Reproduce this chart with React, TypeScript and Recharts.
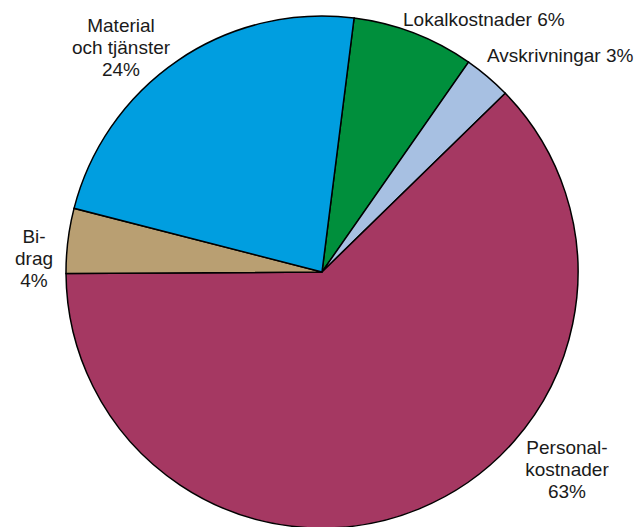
import React from 'react';
import { PieChart, Pie, Cell } from 'recharts';

// slice order runs clockwise from just right of 12 o'clock
const categories = ['Lokalkostnader', 'Avskrivningar', 'Personalkostnader', 'Bidrag', 'Material och tjänster'];
const shares = [7.7, 3.0, 62.2, 4.1, 23.0];
const shownPercent = [6, 3, 63, 4, 24];
const labelText = [
  ['Lokalkostnader 6%'],
  ['Avskrivningar 3%'],
  ['Personal-', 'kostnader', '63%'],
  ['Bi-', 'drag', '4%'],
  ['Material', 'och tjänster', '24%'],
];

const colors = ['#008F3C', '#A7C0E2', '#A53862', '#B99F72', '#009EE0'];

// label anchor offsets from the pie centre
const labelPlacement = [
  { dx: 81, dy: -246, anchor: 'start' },
  { dx: 165, dy: -210, anchor: 'start' },
  { dx: 245, dy: 182, anchor: 'middle' },
  { dx: -288, dy: -29, anchor: 'middle' },
  { dx: -201, dy: -240, anchor: 'middle' },
];

const data = categories.map((name, i) => ({ name, value: shares[i], shown: shownPercent[i] }));

const renderLabel = (props: any) => {
  const { cx, cy, index } = props;
  const p = labelPlacement[index];
  const lines = labelText[index];
  return (
    <text
      x={cx + p.dx}
      y={cy + p.dy}
      textAnchor={p.anchor}
      fill="#1a1a1a"
      fontSize={19}
      fontFamily="'Liberation Sans', Arial, Helvetica, sans-serif"
    >
      {lines.map((line, j) => (
        <tspan key={j} x={cx + p.dx} dy={j === 0 ? 0 : 22}>
          {line}
        </tspan>
      ))}
    </text>
  );
};

const App: React.FC = () => {
  return (
    <div style={{ position: 'absolute', top: 0, left: 0, background: '#fff' }}>
      <PieChart width={635} height={527} margin={{ top: 0, right: 0, bottom: 0, left: 0 }}>
        <Pie
          data={data}
          dataKey="value"
          nameKey="name"
          cx={322}
          cy={272}
          outerRadius={256}
          startAngle={82.8}
          endAngle={-277.2}
          stroke="#000"
          strokeWidth={1.5}
          label={renderLabel}
          labelLine={false}
          isAnimationActive={false}
        >
          {data.map((d, i) => (
            <Cell key={d.name} fill={colors[i]} />
          ))}
        </Pie>
      </PieChart>
    </div>
  );
};

export default App;
